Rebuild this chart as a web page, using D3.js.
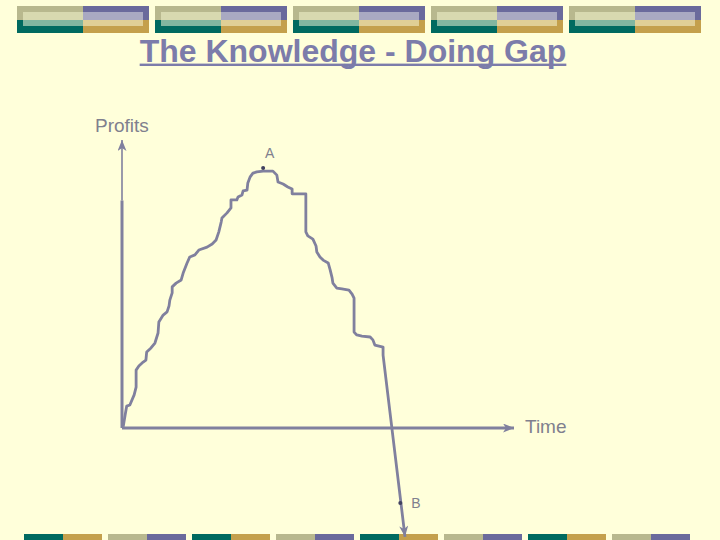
<!DOCTYPE html>
<html>
<head>
<meta charset="utf-8">
<script src="https://cdn.jsdelivr.net/npm/d3@7"></script>
<style>
  body { margin: 0; background: #ffffda; }
  svg { display: block; }
</style>
</head>
<body>
<div id="chart"></div>
<script>
// Chart values
var titleText = "The Knowledge - Doing Gap";
var axisNames = ["Profits", "Time"];

// profit curve over time (both 0-100 on the axes)
var timeVals = [0.3, 0.8, 1.2, 2.0, 3.1, 3.6, 3.6, 4.3, 5.4, 6.1, 6.3, 7.4, 8.4, 9.2, 9.4,
  10.5, 11.5, 12.0, 12.2, 12.8, 12.8, 13.8, 15.1, 15.6, 16.6, 17.3, 18.6, 19.6, 21.7, 23.0,
  24.0, 24.7, 25.3, 25.5, 26.8, 27.8, 27.8, 29.3, 29.6, 30.6, 30.9, 31.9, 32.1, 32.7, 33.4,
  34.4, 36.0, 38.5, 39.5, 39.8, 41.1, 42.3, 43.4, 43.4, 46.9, 46.9, 47.4, 48.7, 49.5, 49.7,
  50.5, 51.3, 52.6, 53.1, 53.6, 53.8, 54.8, 56.1, 57.9, 58.7, 59.2, 59.2, 59.9, 61.2, 63.3,
  64.0, 64.5, 66.6, 66.6, 72.2];
var profitVals = [0.4, 4.5, 7.6, 8.0, 11.5, 14.2, 20.1, 21.5, 22.9, 23.6, 26.4, 27.8, 29.5, 33.0, 36.8,
  39.2, 40.3, 42.4, 44.4, 46.9, 49.0, 50.3, 51.4, 53.8, 57.3, 59.4, 60.1, 61.8, 62.8, 63.9,
  65.3, 68.1, 71.5, 72.9, 74.7, 76.4, 79.2, 79.2, 80.2, 80.9, 82.3, 82.6, 85.1, 87.2, 88.5,
  88.9, 89.2, 89.2, 87.8, 85.4, 84.7, 83.7, 83.0, 81.3, 81.3, 68.1, 66.7, 65.6, 63.2, 61.1,
  59.4, 58.3, 57.3, 54.9, 52.1, 50.3, 48.6, 48.3, 47.9, 46.5, 45.1, 33.3, 32.3, 31.9, 31.6,
  30.6, 28.8, 28.1, 25.3, -37.8];

// marked points
var pointNames = ["A", "B"];
var pointTime = [36.0, 71.0];
var pointProfit = [90.3, -26.0];

var svgWidth = 720;
var svgHeight = 540;

var svg = d3.select("#chart")
  .append("svg")
  .attr("width", svgWidth)
  .attr("height", svgHeight);

svg.append("rect")
  .attr("width", svgWidth)
  .attr("height", svgHeight)
  .attr("fill", "#ffffda");

// slide template decoration, top strip
var topStrip = svg.append("g");
d3.range(5).forEach(function(i) {
  var bx = 17 + i * 138;
  var g = topStrip.append("g").attr("transform", `translate(${bx}, 6)`);
  g.append("rect").attr("x", 0).attr("y", 0).attr("width", 66).attr("height", 14).attr("fill", "#b8b88e");
  g.append("rect").attr("x", 66).attr("y", 0).attr("width", 66).attr("height", 14).attr("fill", "#6a6a9c");
  g.append("rect").attr("x", 0).attr("y", 14).attr("width", 66).attr("height", 13).attr("fill", "#006a60");
  g.append("rect").attr("x", 66).attr("y", 14).attr("width", 66).attr("height", 13).attr("fill", "#c4a04c");
  g.append("rect").attr("x", 6).attr("y", 6).attr("width", 60).attr("height", 8).attr("fill", "#d8d9b0");
  g.append("rect").attr("x", 66).attr("y", 6).attr("width", 60).attr("height", 8).attr("fill", "#a9a9c2");
  g.append("rect").attr("x", 6).attr("y", 14).attr("width", 60).attr("height", 6).attr("fill", "#82b6a0");
  g.append("rect").attr("x", 66).attr("y", 14).attr("width", 60).attr("height", 6).attr("fill", "#e0cf96");
});

// bottom strip
var bottomStrip = svg.append("g");
d3.range(8).forEach(function(i) {
  var cols = i % 2 == 0 ? ["#006a60", "#c4a04c"] : ["#b8b88e", "#6a6a9c"];
  var bx = 24 + i * 84;
  bottomStrip.append("rect").attr("x", bx).attr("y", 534).attr("width", 39).attr("height", 6).attr("fill", cols[0]);
  bottomStrip.append("rect").attr("x", bx + 39).attr("y", 534).attr("width", 39).attr("height", 6).attr("fill", cols[1]);
});

// Title
var titleNode = svg.append("text")
  .attr("x", 353)
  .attr("y", 62)
  .attr("text-anchor", "middle")
  .style("font-family", "'Liberation Sans', Arial, sans-serif")
  .style("font-weight", "bold")
  .style("font-size", "32px")
  .attr("fill", "#7c7caa")
  .text(titleText);

var tb = titleNode.node().getBBox();
svg.append("rect")
  .attr("x", tb.x)
  .attr("y", 63.6)
  .attr("width", tb.width)
  .attr("height", 2.4)
  .attr("fill", "#7c7caa");

// Scales
var xScale = d3.scaleLinear().domain([0, 100]).range([122, 514]);
var yScale = d3.scaleLinear().domain([0, 100]).range([428, 140]);

var lineColor = "#80809e";

var defs = svg.append("defs");
defs.append("marker")
  .attr("id", "arrow")
  .attr("markerUnits", "userSpaceOnUse")
  .attr("markerWidth", 12)
  .attr("markerHeight", 10)
  .attr("refX", 11)
  .attr("refY", 4.5)
  .attr("orient", "auto")
  .append("path")
  .attr("d", "M0,0 L11,4.5 L0,9 L3,4.5 Z")
  .attr("fill", lineColor);

// axes
svg.append("line")
  .attr("x1", xScale(0)).attr("y1", yScale(0))
  .attr("x2", xScale(0)).attr("y2", yScale(79))
  .attr("stroke", lineColor)
  .attr("stroke-width", 3);

svg.append("line")
  .attr("x1", xScale(0)).attr("y1", yScale(79))
  .attr("x2", xScale(0)).attr("y2", yScale(100))
  .attr("stroke", lineColor)
  .attr("stroke-width", 1.6)
  .attr("marker-end", "url(#arrow)");

svg.append("line")
  .attr("x1", xScale(0)).attr("y1", yScale(0))
  .attr("x2", xScale(100)).attr("y2", yScale(0))
  .attr("stroke", lineColor)
  .attr("stroke-width", 3)
  .attr("marker-end", "url(#arrow)");

// profit curve
var curveData = timeVals.map(function(t, i) {
  return { t: t, p: profitVals[i] };
});

var line = d3.line()
  .x(d => xScale(d.t))
  .y(d => yScale(d.p));

svg.append("path")
  .datum(curveData)
  .attr("d", line)
  .attr("fill", "none")
  .attr("stroke", lineColor)
  .attr("stroke-width", 2.8)
  .attr("stroke-linejoin", "round")
  .attr("marker-end", "url(#arrow)");

// axis names
svg.append("text")
  .attr("x", 95)
  .attr("y", 132)
  .style("font-family", "'Liberation Sans', Arial, sans-serif")
  .style("font-size", "19px")
  .attr("fill", "#80808e")
  .text(axisNames[0]);

svg.append("text")
  .attr("x", 525)
  .attr("y", 433)
  .style("font-family", "'Liberation Sans', Arial, sans-serif")
  .style("font-size", "19px")
  .attr("fill", "#80808e")
  .text(axisNames[1]);

// points A and B
var pts = pointNames.map(function(n, i) {
  return { name: n, t: pointTime[i], p: pointProfit[i] };
});

svg.selectAll(".pt")
  .data(pts)
  .enter()
  .append("circle")
  .attr("class", "pt")
  .attr("cx", d => xScale(d.t))
  .attr("cy", d => yScale(d.p))
  .attr("r", 2)
  .attr("fill", "#404060");

svg.selectAll(".ptLabel")
  .data(pts)
  .enter()
  .append("text")
  .attr("class", "ptLabel")
  .attr("x", (d, i) => i == 0 ? xScale(d.t) + 2 : xScale(d.t) + 11)
  .attr("y", (d, i) => i == 0 ? yScale(d.p) - 10 : yScale(d.p) + 5)
  .style("font-family", "'Liberation Sans', Arial, sans-serif")
  .style("font-size", "14px")
  .attr("fill", "#80808e")
  .text(d => d.name);
</script>
</body>
</html>
